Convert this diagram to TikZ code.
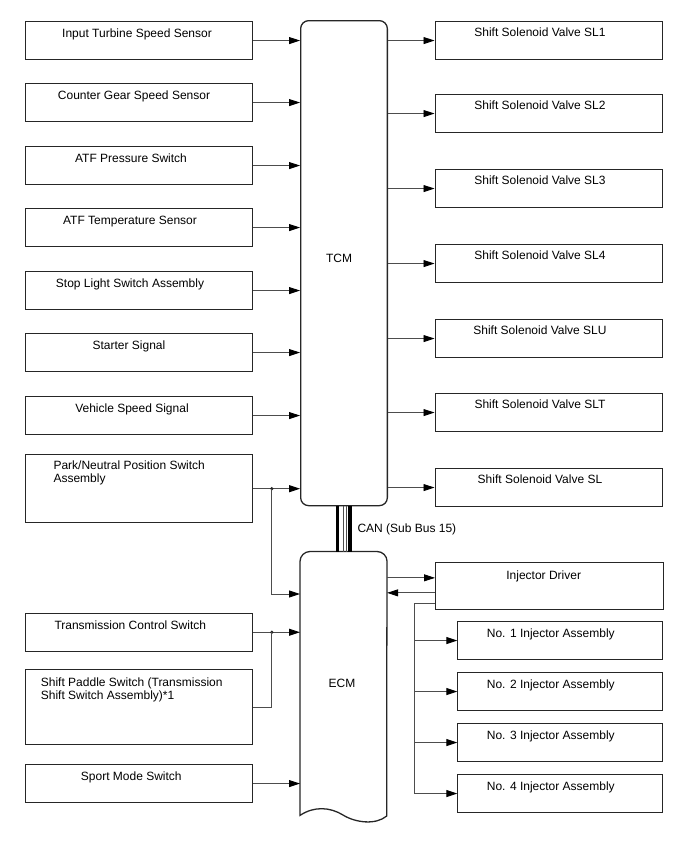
\documentclass[tikz,border=0pt]{standalone}
\usepackage{fontspec}
\setmainfont{Liberation Sans}
\usepackage{xcolor}
\usetikzlibrary{arrows.meta,calc}
\definecolor{diagInk}{HTML}{262626}
\definecolor{diagWire}{HTML}{4D4D4D}
\tikzset{
  sigbox/.style={rectangle, draw=diagInk, line width=1.1pt, inner sep=0pt, anchor=north west},
  inbox/.style={sigbox, minimum width=227.3pt, minimum height=38pt},
  valvebox/.style={sigbox, minimum width=227.8pt, minimum height=38pt},
  injbox/.style={sigbox, minimum width=205pt, minimum height=38pt},
  ctlunit/.style={draw=diagInk, line width=1.3pt},
  boxtext/.style={inner sep=0pt, font=\fontsize{12pt}{13pt}\selectfont, anchor=base},
  sigarr/.style={-{Triangle[length=11pt,width=7pt,black]}, line width=0.9pt, draw=diagWire},
  sigline/.style={line width=0.9pt, draw=diagWire},
  jdot/.style={circle, fill=diagInk, inner sep=0pt, minimum size=3.6pt},
  canwire/.style={line width=3.4pt, draw=black},
  canthin/.style={line width=0.8pt, draw=diagWire},
}

\begin{document}
\begin{tikzpicture}[x=1pt,y=-1pt]
  \useasboundingbox (0,0) rectangle (688,852);
  % control units
  \node[ctlunit, rounded corners=8pt, minimum width=86.7pt, minimum height=485pt, anchor=north west, inner sep=0pt] (tcm) at (300,20) {};
  \node[boxtext] (tcmt) at (339,262) {TCM};
  \node[minimum width=86.7pt, minimum height=263.5pt, anchor=north west, inner sep=0pt] (ecm) at (300,551.5) {};
  \draw[ctlunit] (ecm.south west) [rounded corners=10pt] -- (ecm.north west) -- (ecm.north east) -- (386.7,700) [sharp corners]
    -- (386.7,816) .. controls (376,825) and (356,823) .. (343,815) .. controls (330,807) and (314,806) .. (ecm.south west) -- cycle;
  \node[boxtext] (ecmt) at (342,687.3) {ECM};

  % CAN bus
  \coordinate (canA) at ([xshift=-6.3pt]tcm.south);
  \coordinate (canB) at ([xshift=-1pt]tcm.south);
  \coordinate (canC) at ([xshift=2.2pt]tcm.south);
  \coordinate (canD) at ([xshift=5.9pt]tcm.south);
  \draw[canwire] (canA) -- (canA |- ecm.north);
  \draw[canthin] (canB) -- (canB |- ecm.north);
  \draw[canthin] (canC) -- (canC |- ecm.north);
  \draw[canwire] (canD) -- (canD |- ecm.north);
  \node[boxtext, anchor=base west] (cant) at (357.3,532.7) {CAN (Sub Bus 15)};

  % TCM inputs
  \node[inbox] (its) at (25,21) {};
  \node[boxtext] (itst) at (137,37.2) {Input Turbine Speed Sensor};
  \node[inbox] (cgs) at (25,83) {};
  \node[boxtext] (cgst) at (134,99.2) {Counter Gear Speed Sensor};
  \node[inbox] (atfp) at (25,146) {};
  \node[boxtext] (atfpt) at (131,162.2) {ATF Pressure Switch};
  \node[inbox] (atft) at (25,208) {};
  \node[boxtext] (atftt) at (130,224.2) {ATF Temperature Sensor};
  \node[inbox] (sls) at (25,271) {};
  \node[boxtext] (slst) at (130,287.2) {Stop Light Switch Assembly};
  \node[inbox] (sts) at (25,333) {};
  \node[boxtext] (stst) at (129,349.2) {Starter Signal};
  \node[inbox] (vss) at (25,396) {};
  \node[boxtext] (vsst) at (132,412.2) {Vehicle Speed Signal};
  \node[inbox, minimum height=68.3pt] (pnp) at (25,454) {};
  \node[boxtext, anchor=north west, align=left] (pnpt) at (53.3,460.7) {Park/Neutral Position Switch\\Assembly};
  \draw[sigarr] (its.east) -- (its.east -| tcm.west);
  \draw[sigarr] (cgs.east) -- (cgs.east -| tcm.west);
  \draw[sigarr] (atfp.east) -- (atfp.east -| tcm.west);
  \draw[sigarr] (atft.east) -- (atft.east -| tcm.west);
  \draw[sigarr] (sls.east) -- (sls.east -| tcm.west);
  \draw[sigarr] (sts.east) -- (sts.east -| tcm.west);
  \draw[sigarr] (vss.east) -- (vss.east -| tcm.west);
  \draw[sigarr] (pnp.east) -- (pnp.east -| tcm.west);
  \node[jdot] (pnpj) at ($(pnp.east)+(18.4,0)$) {};
  \coordinate (ecmin) at ([yshift=-42.5pt]ecm.north west);
  \draw[sigarr] (pnpj.center) |- (ecmin);

  % ECM inputs
  \node[inbox] (tcs) at (25,612.7) {};
  \node[boxtext] (tcst) at (130.3,629.3) {Transmission Control Switch};
  \node[inbox, minimum height=75pt] (sps) at (25,669) {};
  \node[boxtext, anchor=north west, align=left] (spst) at (40.7,677.3) {Shift Paddle Switch (Transmission\\Shift Switch Assembly)*1};
  \node[inbox] (smw) at (25,764) {};
  \node[boxtext] (smwt) at (131.3,780.3) {Sport Mode Switch};
  \draw[sigarr] (tcs.east) -- (tcs.east -| ecm.west);
  \node[jdot] (tcsj) at ($(tcs.east)+(18.4,0)$) {};
  \draw[sigline] (sps.east) -| (tcsj.center);
  \draw[sigarr] (smw.east) -- (smw.east -| ecm.west);

  % TCM outputs
  \node[valvebox] (sl1) at (434.5,21) {};
  \node[boxtext] (sl1t) at (540,36.9) {Shift Solenoid Valve SL1};
  \node[valvebox] (sl2) at (434.5,94) {};
  \node[boxtext] (sl2t) at (540,109.9) {Shift Solenoid Valve SL2};
  \node[valvebox] (sl3) at (434.5,169) {};
  \node[boxtext] (sl3t) at (540,184.9) {Shift Solenoid Valve SL3};
  \node[valvebox] (sl4) at (434.5,244) {};
  \node[boxtext] (sl4t) at (540,259.9) {Shift Solenoid Valve SL4};
  \node[valvebox] (slu) at (434.5,319) {};
  \node[boxtext] (slut) at (540,334.9) {Shift Solenoid Valve SLU};
  \node[valvebox] (slt) at (434.5,393) {};
  \node[boxtext] (sltt) at (540,408.9) {Shift Solenoid Valve SLT};
  \node[valvebox] (sl) at (434.5,468) {};
  \node[boxtext] (slt0) at (540,483.9) {Shift Solenoid Valve SL};
  \draw[sigarr] (tcm.east |- sl1.west) -- (sl1.west);
  \draw[sigarr] (tcm.east |- sl2.west) -- (sl2.west);
  \draw[sigarr] (tcm.east |- sl3.west) -- (sl3.west);
  \draw[sigarr] (tcm.east |- sl4.west) -- (sl4.west);
  \draw[sigarr] (tcm.east |- slu.west) -- (slu.west);
  \draw[sigarr] (tcm.east |- slt.west) -- (slt.west);
  \draw[sigarr] (tcm.east |- sl.west) -- (sl.west);

  % injector side
  \node[sigbox, minimum width=228pt, minimum height=47pt] (injd) at (435,562.3) {};
  \node[boxtext] (injdt) at (543.7,579.3) {Injector Driver};
  \coordinate (drvin) at ([yshift=8.5pt]injd.west);
  \coordinate (drvout) at ([yshift=-6.5pt]injd.west);
  \draw[sigarr] (ecm.east |- drvin) -- (drvin);
  \draw[sigarr] (drvout) -- (ecm.east |- drvout);
  \node[injbox] (inj1) at (457.3,621) {};
  \node[boxtext] (inj1t) at (550.8,637.6) {No. 1 Injector Assembly};
  \node[injbox] (inj2) at (457.3,672) {};
  \node[boxtext] (inj2t) at (550.8,688.6) {No. 2 Injector Assembly};
  \node[injbox] (inj3) at (457.3,723) {};
  \node[boxtext] (inj3t) at (550.8,739.6) {No. 3 Injector Assembly};
  \node[injbox] (inj4) at (457.3,774) {};
  \node[boxtext] (inj4t) at (550.8,790.6) {No. 4 Injector Assembly};
  \coordinate (drvtap) at ([yshift=6.6pt]injd.south west);
  \coordinate (injbus) at ($(drvtap)+(-20.7,0)$);
  \draw[sigline] (drvtap) -- (injbus) -- (injbus |- inj4.west);
  \draw[sigarr] (injbus |- inj1.west) -- (inj1.west);
  \draw[sigarr] (injbus |- inj2.west) -- (inj2.west);
  \draw[sigarr] (injbus |- inj3.west) -- (inj3.west);
  \draw[sigarr] (injbus |- inj4.west) -- (inj4.west);
\end{tikzpicture}
\end{document}
